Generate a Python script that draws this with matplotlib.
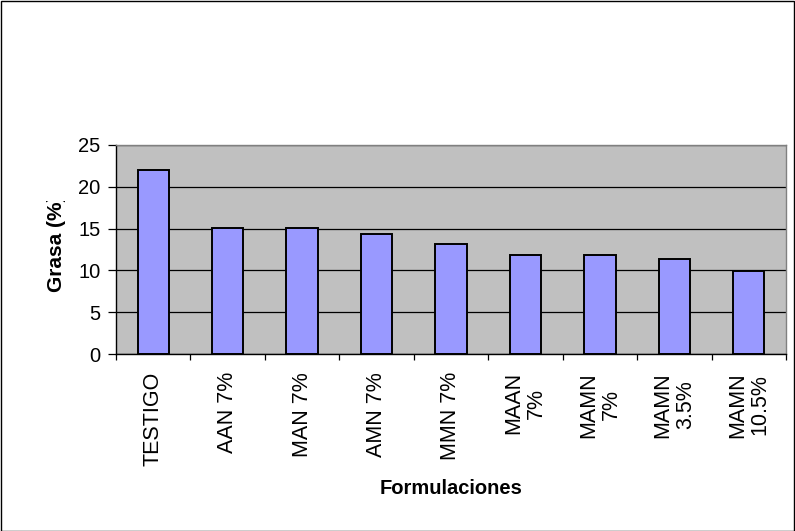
import matplotlib
matplotlib.use("Agg")
import matplotlib.pyplot as plt
from matplotlib.patches import Rectangle
from matplotlib.ticker import FixedLocator

plt.rcParams['font.family'] = ['Liberation Sans', 'DejaVu Sans']

categories = ["TESTIGO", "AAN 7%", "MAN 7%", "AMN 7%", "MMN 7%",
              "MAAN\n7%", "MAMN\n7%", "MAMN\n3.5%", "MAMN\n10.5%"]
grasa = [22.0, 15.1, 15.1, 14.4, 13.1, 11.9, 11.9, 11.4, 9.9]
yticks = [0, 5, 10, 15, 20, 25]

W, H = 795, 531
fig = plt.figure(figsize=(W / 100, H / 100), dpi=100)
fig.patch.set_facecolor("white")

# outer frame of the chart
fig.add_artist(Rectangle((0.5 / W, 0.5 / H), 1 - 1.5 / W, 1 - 1.5 / H,
                         transform=fig.transFigure, fill=False,
                         edgecolor="black", linewidth=1.0))

left, right, top, bottom = 116, 786, 145, 354
ax = fig.add_axes([left / W, 1 - bottom / H, (right - left) / W, (bottom - top) / H])
ax.set_facecolor("#C0C0C0")

x = list(range(len(categories)))
ax.bar(x, grasa, width=0.42, color="#9999FF", edgecolor="black",
       linewidth=1.4, zorder=3)

ax.set_xlim(-0.5, len(categories) - 0.5)
ax.set_ylim(0, 25)
ax.set_yticks(yticks)
ax.set_yticklabels([str(v) for v in yticks], fontsize=14.5)
ax.yaxis.grid(True, color="black", linewidth=0.9, zorder=1)
ax.set_axisbelow(True)

ax.set_xticks(x)
ax.set_xticklabels(categories, rotation=90, fontsize=15.5, va="top",
                   ha="center", multialignment="center", linespacing=1.1)
ax.xaxis.set_minor_locator(FixedLocator([i - 0.5 for i in range(len(categories) + 1)]))
ax.tick_params(axis="x", which="major", length=0, pad=13)
ax.tick_params(axis="x", which="minor", length=4.5, width=0.9, direction="out")
ax.tick_params(axis="y", length=5.8, width=0.9, direction="out", pad=5.5)

for side in ("left", "bottom"):
    ax.spines[side].set_color("black")
    ax.spines[side].set_linewidth(1.0)
for side in ("top", "right"):
    ax.spines[side].set_color("#808080")
    ax.spines[side].set_linewidth(1.0)
ax.spines["bottom"].set_zorder(4)

# y-axis title, clipped at the top edge of its box
ylab = fig.text(56.5 / W, 1 - 243.5 / H, "Grasa (%)", rotation=90,
                fontsize=15, fontweight="bold", ha="center", va="center")
clip = Rectangle((0, 0), 1, 1 - 201 / H, transform=fig.transFigure, visible=False)
fig.add_artist(clip)
ylab.set_clip_path(clip)

fig.text(451 / W, 1 - 488 / H, "Formulaciones", fontsize=14.5,
         fontweight="bold", ha="center", va="center")

fig.savefig("out.png", dpi=100)
